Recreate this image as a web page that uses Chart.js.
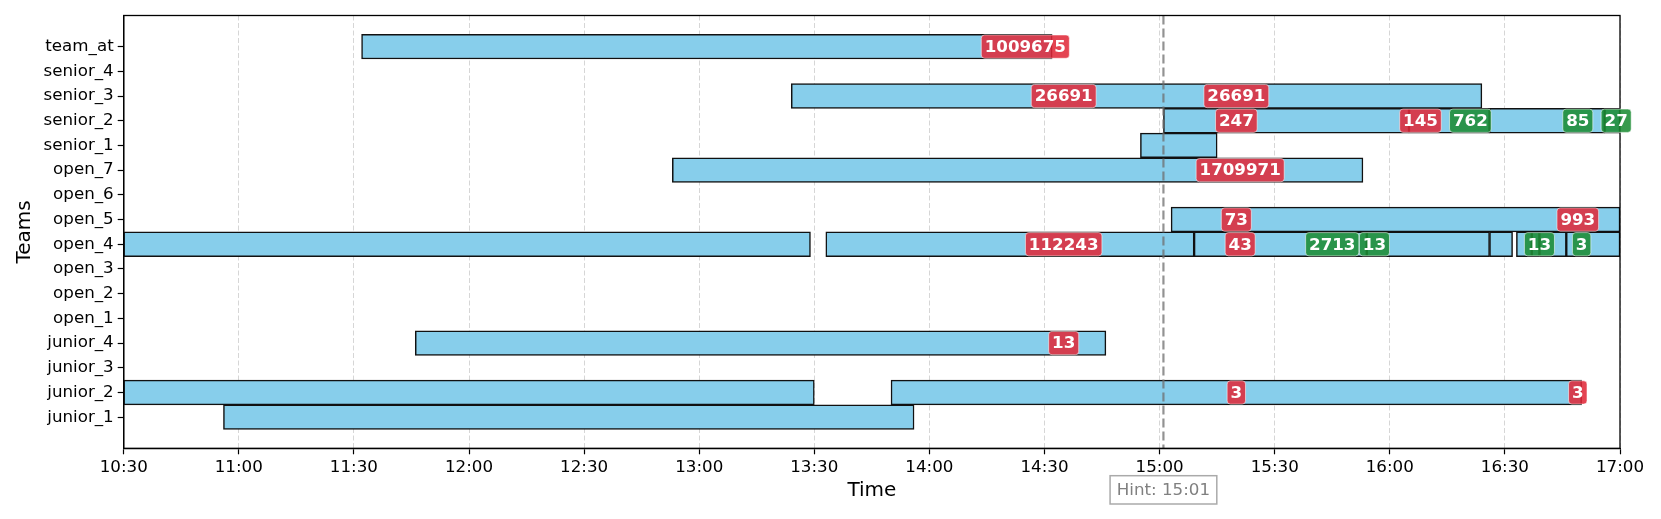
<!DOCTYPE html>
<html>
<head>
<meta charset="utf-8">
<title>Team timeline</title>
<script src="https://cdn.jsdelivr.net/npm/chart.js@4.4.1/dist/chart.umd.min.js"></script>
<style>
  html, body { margin: 0; padding: 0; background: #fff; }
</style>
</head>
<body>
<canvas id="chart" width="1661" height="519"></canvas>
<script>
'use strict';

// teams, listed bottom to top
var teams = ['junior_1', 'junior_2', 'junior_3', 'junior_4', 'open_1', 'open_2', 'open_3', 'open_4',
  'open_5', 'open_6', 'open_7', 'senior_1', 'senior_2', 'senior_3', 'senior_4', 'team_at'];

var timeTicks = ['10:30', '11:00', '11:30', '12:00', '12:30', '13:00', '13:30',
  '14:00', '14:30', '15:00', '15:30', '16:00', '16:30', '17:00'];

// busy segments (one bar each)
var segTeam = ['team_at', 'senior_3',
  'senior_2', 'senior_2', 'senior_2', 'senior_2',
  'senior_1', 'open_7', 'open_5',
  'open_4', 'open_4', 'open_4', 'open_4', 'open_4', 'open_4', 'open_4', 'open_4', 'open_4',
  'junior_4', 'junior_2', 'junior_2', 'junior_1'];
var segStart = ['11:32', '13:24',
  '15:01', '16:05', '16:26', '16:56',
  '14:55', '12:53', '15:03',
  '10:30', '13:33', '15:09', '15:54', '16:26', '16:33', '16:37', '16:39', '16:46',
  '11:46', '10:30', '13:50', '10:56'];
var segEnd = ['14:32', '16:24',
  '16:05', '16:26', '16:56', '17:00',
  '15:15', '15:53', '17:00',
  '13:29', '15:09', '15:54', '16:26', '16:32', '16:37', '16:39', '16:46', '17:00',
  '14:46', '13:30', '16:50', '13:56'];

// number markers on the bars
var markTeam = ['team_at', 'senior_3', 'senior_3',
  'senior_2', 'senior_2', 'senior_2', 'senior_2', 'senior_2',
  'open_7', 'open_5', 'open_5',
  'open_4', 'open_4', 'open_4', 'open_4', 'open_4', 'open_4',
  'junior_4', 'junior_2', 'junior_2'];
var markTime = ['14:25', '14:35', '15:20',
  '15:20', '16:08', '16:21', '16:49', '16:59',
  '15:21', '15:20', '16:49',
  '14:35', '15:21', '15:45', '15:56', '16:39', '16:50',
  '14:35', '15:20', '16:49'];
var markText = ['1009675', '26691', '26691',
  '247', '145', '762', '85', '27',
  '1709971', '73', '993',
  '112243', '43', '2713', '13', '13', '3',
  '13', '3', '3'];
var markKind = ['alert', 'alert', 'alert',
  'alert', 'alert', 'ok', 'ok', 'ok',
  'alert', 'alert', 'alert',
  'alert', 'alert', 'ok', 'ok', 'ok', 'ok',
  'alert', 'alert', 'alert'];

var hintTime = '15:01';

function toMin(s) {
  var p = s.split(':');
  return Number(p[0]) * 60 + Number(p[1]);
}
function fmt(m) {
  var h = Math.floor(m / 60);
  var mm = Math.round(m - h * 60);
  return h + ':' + (mm < 10 ? '0' : '') + mm;
}

var bars = [];
for (var i = 0; i < segTeam.length; i++) {
  bars.push({ x: [toMin(segStart[i]), toMin(segEnd[i])], y: teams.indexOf(segTeam[i]) });
}

var FONT = '"DejaVu Sans", "Liberation Sans", sans-serif';
var markColors = { alert: 'rgba(224,40,56,0.87)', ok: 'rgba(28,140,52,0.88)' };

function roundBox(ctx, x, y, w, h, r) {
  ctx.beginPath();
  ctx.moveTo(x + r, y);
  ctx.lineTo(x + w - r, y);
  ctx.arcTo(x + w, y, x + w, y + r, r);
  ctx.lineTo(x + w, y + h - r);
  ctx.arcTo(x + w, y + h, x + w - r, y + h, r);
  ctx.lineTo(x + r, y + h);
  ctx.arcTo(x, y + h, x, y + h - r, r);
  ctx.lineTo(x, y + r);
  ctx.arcTo(x, y, x + r, y, r);
  ctx.closePath();
}

var overlay = {
  id: 'overlay',
  afterDatasetsDraw: function (chart) {
    var ctx = chart.ctx;
    var area = chart.chartArea;
    var xs = chart.scales.x;
    var ys = chart.scales.y;
    ctx.save();

    // dashed hint line
    var hx = xs.getPixelForValue(toMin(hintTime));
    ctx.strokeStyle = 'rgba(110,110,110,0.75)';
    ctx.lineWidth = 2.2;
    ctx.setLineDash([9, 4]);
    ctx.beginPath();
    ctx.moveTo(hx, area.top);
    ctx.lineTo(hx, area.bottom);
    ctx.stroke();
    ctx.setLineDash([]);

    // frame
    ctx.strokeStyle = '#000';
    ctx.lineWidth = 1.3;
    ctx.strokeRect(area.left, area.top, area.right - area.left, area.bottom - area.top);

    // markers
    ctx.font = 'bold 16.7px ' + FONT;
    ctx.textAlign = 'center';
    ctx.textBaseline = 'middle';
    for (var i = 0; i < markText.length; i++) {
      var cx = xs.getPixelForValue(toMin(markTime[i]));
      var cy = ys.getPixelForValue(teams.indexOf(markTeam[i]));
      var w = ctx.measureText(markText[i]).width + 6.8;
      var h = 23.3;
      roundBox(ctx, cx - w / 2, cy - h / 2, w, h, 3.3);
      ctx.fillStyle = markColors[markKind[i]];
      ctx.fill();
      ctx.strokeStyle = 'rgba(255,255,255,0.55)';
      ctx.lineWidth = 1;
      ctx.stroke();
      ctx.fillStyle = '#fff';
      ctx.fillText(markText[i], cx, cy + 1);
    }
    ctx.restore();
  },
  afterDraw: function (chart) {
    var ctx = chart.ctx;
    var xs = chart.scales.x;
    var hx = xs.getPixelForValue(toMin(hintTime));
    var txt = 'Hint: ' + hintTime;
    ctx.save();
    ctx.font = '16.7px ' + FONT;
    var w = ctx.measureText(txt).width + 13.4;
    var top = 475.7, h = 28.3;
    ctx.fillStyle = '#fff';
    ctx.fillRect(hx - w / 2, top, w, h);
    ctx.strokeStyle = '#aaaaaa';
    ctx.lineWidth = 1.5;
    ctx.strokeRect(hx - w / 2, top, w, h);
    ctx.fillStyle = '#808080';
    ctx.textAlign = 'center';
    ctx.textBaseline = 'middle';
    ctx.fillText(txt, hx, top + h / 2 + 1);
    ctx.restore();
  }
};

var ctx = document.getElementById('chart');

new Chart(ctx, {
  type: 'bar',
  data: {
    datasets: [{
      label: 'busy',
      data: bars,
      backgroundColor: '#87ceeb',
      borderColor: '#111111',
      borderWidth: 1.5,
      borderSkipped: false,
      barPercentage: 1,
      categoryPercentage: 1,
      grouped: false
    }]
  },
  options: {
    indexAxis: 'y',
    responsive: false,
    devicePixelRatio: 1,
    animation: false,
    layout: { padding: { left: 0, right: 41, top: 15.5, bottom: 0 } },
    plugins: {
      legend: { display: false },
      tooltip: { enabled: false }
    },
    scales: {
      x: {
        type: 'linear',
        position: 'bottom',
        offset: false,
        min: toMin(timeTicks[0]),
        max: toMin(timeTicks[timeTicks.length - 1]),
        afterBuildTicks: function (s) {
          s.ticks = timeTicks.map(function (t) { return { value: toMin(t) }; });
        },
        afterFit: function (s) { s.height = 70.7; },
        ticks: {
          autoSkip: false,
          maxRotation: 0,
          padding: 3,
          color: '#000',
          font: { family: FONT, size: 16.7 },
          callback: function (v) { return fmt(v); }
        },
        grid: { offset: false, color: '#d6d6d6', lineWidth: 1, tickColor: '#000', tickLength: 6, tickWidth: 1.2 },
        border: { color: '#000', width: 1.3, dash: [5, 2.5] },
        title: {
          display: true,
          text: 'Time',
          color: '#000',
          font: { family: FONT, size: 20 },
          padding: { top: 0, bottom: 16.5 }
        }
      },
      y: {
        type: 'linear',
        offset: false,
        min: -1.26,
        max: teams.length - 1 + 1.26,
        afterBuildTicks: function (s) {
          s.ticks = teams.map(function (t, i) { return { value: i }; });
        },
        afterFit: function (s) { s.width = 123.7; },
        ticks: {
          autoSkip: false,
          padding: 4,
          color: '#000',
          font: { family: FONT, size: 16.7 },
          callback: function (v) { return teams[v]; }
        },
        grid: { offset: false, drawOnChartArea: false, tickColor: '#000', tickLength: 6, tickWidth: 1.2 },
        border: { color: '#000', width: 1.3 },
        title: {
          display: true,
          text: 'Teams',
          color: '#000',
          font: { family: FONT, size: 20 },
          padding: { top: 12.5, bottom: 0 }
        }
      }
    }
  },
  plugins: [overlay]
});
</script>
</body>
</html>
